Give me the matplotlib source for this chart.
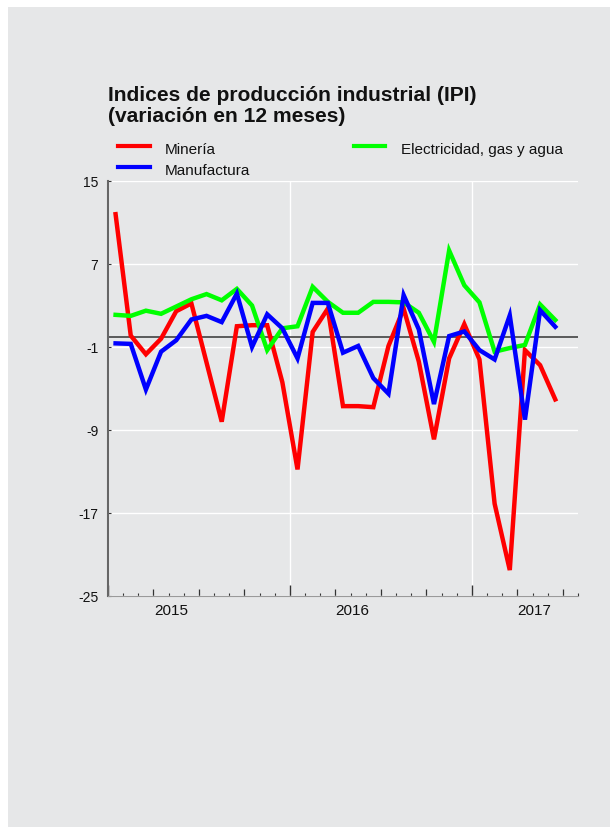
import matplotlib
matplotlib.use('Agg')
import matplotlib.pyplot as plt
from matplotlib.lines import Line2D
from matplotlib.patches import Rectangle
import numpy as np
import pandas as pd

plt.rcParams['font.family'] = ['Liberation Sans', 'DejaVu Sans']

# ---- data (12-month % change), Jan 2015 .. Jun 2017 ----
months = pd.date_range('2015-01-01', periods=30, freq='MS')
mineria = [11.8, 0.1, -1.7, -0.2, 2.45, 3.2, -2.5, -8.2, 1.0, 1.1, 1.1, -4.4,
           -12.8, 0.45, 2.7, -6.7, -6.7, -6.8, -0.9, 2.7, -2.4, -9.9, -2.1, 1.2,
           -2.2, -16.1, -22.5, -1.3, -2.75, -6.05]
manufactura = [-0.65, -0.7, -5.1, -1.45, -0.35, 1.65, 2.0, 1.4, 4.15, -1.0, 2.15, 0.8,
               -2.1, 3.25, 3.25, -1.55, -0.9, -4.0, -5.5, 4.0, 0.7, -6.5, 0.05, 0.5,
               -1.3, -2.2, 2.05, -8.0, 2.55, 0.95]
electricidad = [2.1, 2.0, 2.5, 2.2, 2.9, 3.6, 4.1, 3.5, 4.6, 3.0, -1.3, 0.8,
                1.0, 4.8, 3.35, 2.3, 2.3, 3.35, 3.35, 3.3, 2.3, -0.5, 8.3, 4.95,
                3.3, -1.45, -1.1, -0.8, 3.1, 1.6]
series_names = ['Minería', 'Manufactura', 'Electricidad, gas y agua']
series_colors = ['#ff0000', '#0000ff', '#00ff00']
years = ['2015', '2016', '2017']
yticks = [15, 7, -1, -9, -17, -25]

title1 = 'Indices de producción industrial (IPI)'
title2 = '(variación en 12 meses)'

W, H = 610, 829
BG = '#e6e7e8'

fig = plt.figure(figsize=(W / 100, H / 100), dpi=100)
fig.patch.set_facecolor('white')
fig.add_artist(Rectangle((8 / W, 1 / H), 602 / W, 820 / H, transform=fig.transFigure,
                         facecolor=BG, edgecolor='none', zorder=-10))

ax = fig.add_axes([108 / W, 1 - 597 / H, 470 / W, 415 / H])
ax.set_facecolor(BG)

# month index positions (mid-month)
x = np.arange(len(months)) + 0.5

ax.axhline(0, color='#333333', lw=1.1, zorder=2)
order = [(mineria, 0), (electricidad, 2), (manufactura, 1)]
for vals, k in order:
    ax.plot(x, vals, color=series_colors[k], lw=3.2, solid_joinstyle='miter', zorder=3)

ax.set_xlim(0, 31)
ax.set_ylim(-25, 15)
ax.set_yticks(yticks)
ax.set_yticklabels([str(v) for v in yticks])

year_pos = [0, 12, 24]
ax.set_xticks(year_pos)
ax.set_xticklabels([])
ax.set_xticks([m for m in range(0, 32) if m % 3 != 0], minor=True)

ax.tick_params(axis='y', direction='in', length=2.4, width=0.8, color='#333333',
               pad=7, labelsize=10, labelcolor='#111111')
ax.tick_params(axis='x', which='major', direction='in', length=7.6, width=1.0,
               color='#333333', labelbottom=False)
ax.tick_params(axis='x', which='minor', direction='in', length=2.4, width=0.8,
               color='#333333')

sec = ax.secondary_xaxis('bottom')
sec.set_xticks([m for m in range(0, 32) if m % 3 == 0 and m % 12 != 0])
sec.set_xticklabels([])
sec.tick_params(direction='in', length=4.8, width=0.9, color='#333333')
sec.spines['bottom'].set_visible(False)

ax.set_axisbelow(True)
ax.grid(axis='y', color='white', lw=1.0)
ax.grid(axis='x', which='major', color='white', lw=1.0)

for s in ['top', 'right']:
    ax.spines[s].set_visible(False)
ax.spines['left'].set_color('#666666')
ax.spines['left'].set_linewidth(1.5)
ax.spines['bottom'].set_color('#9a9a9a')
ax.spines['bottom'].set_linewidth(0.8)

for yp, lab in zip(year_pos, years):
    ax.text(yp + 4.14, -18 / 415, lab, transform=ax.get_xaxis_transform(),
            ha='center', va='baseline', fontsize=11, color='#111111')

# titles
fig.text(108 / W, 1 - 100.7 / H, title1, fontsize=15.1, fontweight='bold',
         va='baseline', ha='left', color='#111111')
fig.text(108 / W, 1 - 121.7 / H, title2, fontsize=15.1, fontweight='bold',
         va='baseline', ha='left', color='#111111')

# legend (manual)
leg = [(0, 118, 150, 165, 147.3, 154), (1, 118, 150, 165, 168.3, 175),
       (2, 354, 385, 401, 147.3, 154)]
for k, x1, x2, xt, yl, yb in leg:
    fig.add_artist(Line2D([x1 / W, x2 / W], [1 - yl / H, 1 - yl / H],
                          transform=fig.transFigure, color=series_colors[k], lw=3))
    fig.text(xt / W, 1 - yb / H, series_names[k], fontsize=11, va='baseline',
             ha='left', color='#111111')

fig.savefig('out.png', dpi=100, facecolor='white')
